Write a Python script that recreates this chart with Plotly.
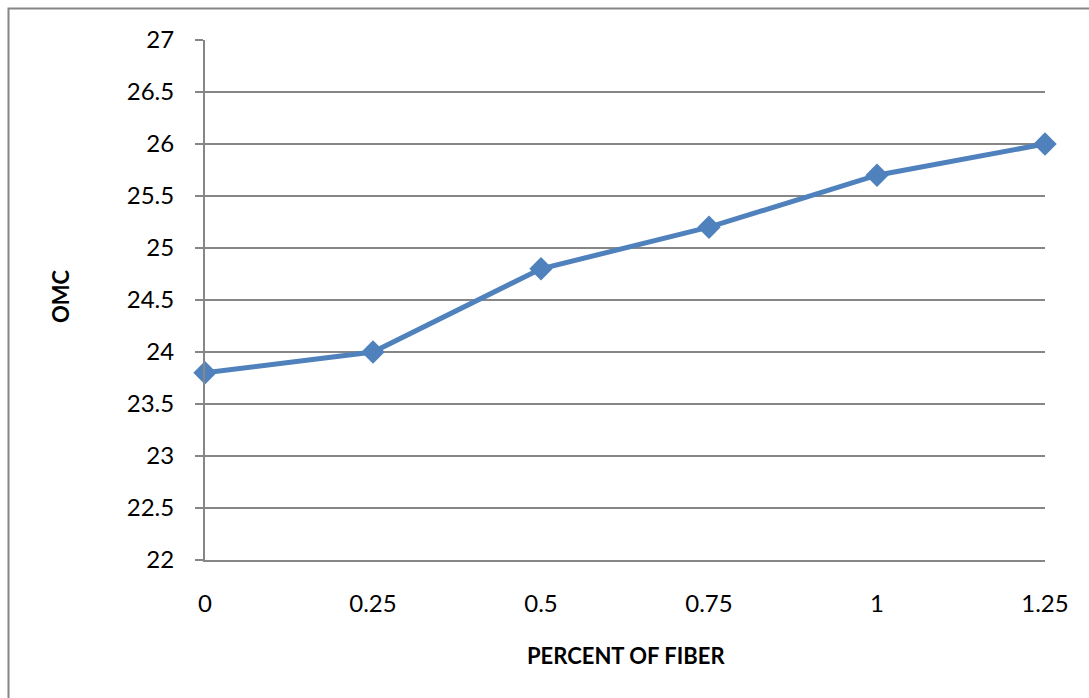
import plotly.graph_objects as go

fiber = [0, 0.25, 0.5, 0.75, 1, 1.25]
omc = [23.8, 24.0, 24.8, 25.2, 25.7, 26.0]
x_ticks = [0, 0.25, 0.5, 0.75, 1, 1.25]
x_tick_text = ["0", "0.25", "0.5", "0.75", "1", "1.25"]
y_ticks = [22, 22.5, 23, 23.5, 24, 24.5, 25, 25.5, 26, 26.5, 27]
y_tick_text = ["22", "22.5", "23", "23.5", "24", "24.5", "25", "25.5", "26", "26.5", "27"]

W, H = 1089, 698
L, R, T, B = 205, 44, 40, 138
pw, ph = W - L - R, H - T - B

FAM = "Lato, Carlito, Calibri, sans-serif"
fig = go.Figure()
fig.add_trace(go.Scatter(
    x=fiber, y=omc, mode="lines+markers",
    line=dict(color="#4F81BD", width=5),
    marker=dict(symbol="diamond", size=18, color="#4F81BD"),
    cliponaxis=False, showlegend=False,
))

font = dict(family=FAM, size=24, color="#000000")

fig.update_layout(
    width=W, height=H,
    margin=dict(l=L, r=R, t=T, b=B, autoexpand=False),
    paper_bgcolor="white", plot_bgcolor="white",
    font=font,
    xaxis=dict(
        range=[0, 1.25], tickvals=x_ticks, ticktext=x_tick_text,
        showgrid=False, zeroline=False, showline=True, linecolor="#868686", linewidth=2,
        ticks="", ticklabelstandoff=21, tickfont=font,
    ),
    yaxis=dict(
        range=[22, 27], tickvals=y_ticks, ticktext=y_tick_text,
        showgrid=True, gridcolor="#868686", gridwidth=1.5, zeroline=False,
        showline=True, linecolor="#868686", linewidth=2,
        ticks="outside", ticklen=8, tickcolor="#868686", tickwidth=2,
        ticklabelstandoff=16, tickfont=font,
    ),
    shapes=[dict(
        type="rect", xref="paper", yref="paper",
        x0=(8.5 - L) / pw, x1=1.2, y0=-0.4, y1=(H - B - 8.5) / ph,
        line=dict(color="#868686", width=2), fillcolor="rgba(0,0,0,0)",
        layer="above",
    )],
    annotations=[
        dict(text="<b>PERCENT OF FIBER</b>", xref="paper", yref="paper",
             x=(626 - L) / pw, y=(H - B - 655) / ph, xanchor="center", yanchor="middle",
             showarrow=False, font=dict(family=FAM, size=22, color="#000")),
        dict(text="<b>OMC</b>", xref="paper", yref="paper",
             x=(60 - L) / pw, y=(H - B - 296) / ph, xanchor="center", yanchor="middle",
             textangle=-90, showarrow=False,
             font=dict(family=FAM, size=22, color="#000")),
    ],
)

fig.write_html("out.html")
